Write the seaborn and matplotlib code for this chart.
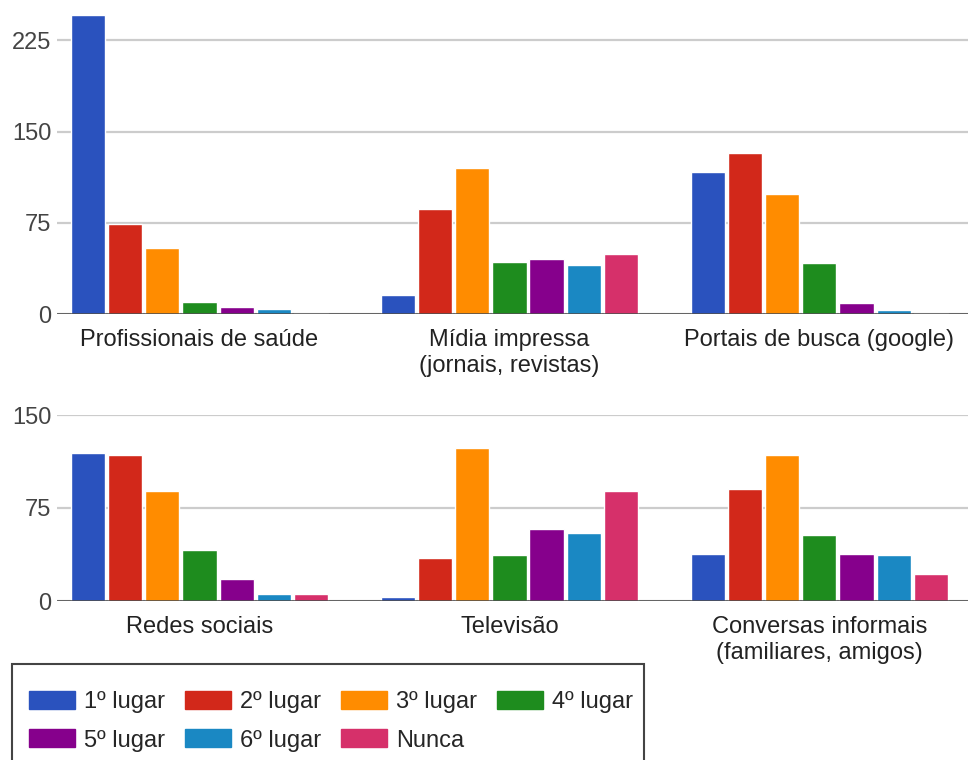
import matplotlib
matplotlib.use("Agg")
import matplotlib.pyplot as plt
from matplotlib.patches import Patch, Rectangle
import pandas as pd
import seaborn as sns

# Ranking levels and their colours
posicoes = ["1º lugar", "2º lugar", "3º lugar", "4º lugar", "5º lugar", "6º lugar", "Nunca"]
cores = ["#2a52be", "#d2281a", "#ff8c00", "#1e8c1e", "#86008c", "#1a88c3", "#d6306a"]

# Upper panel sources
fontes_sup = ["Profissionais de saúde", "Mídia impressa\n(jornais, revistas)", "Portais de busca (google)"]
profissionais = [246, 74, 54, 10, 6, 4, 1]
midia = [16, 86, 120, 43, 45, 40, 49]
portais = [117, 132, 99, 42, 9, 3, 1]

# Lower panel sources
fontes_inf = ["Redes sociais", "Televisão", "Conversas informais\n(familiares, amigos)"]
redes = [119, 118, 89, 41, 18, 6, 6]
televisao = [3, 35, 123, 37, 58, 55, 89]
conversas = [38, 90, 118, 53, 38, 37, 22]

ticks_sup = [0, 75, 150, 225]
ticks_inf = [0, 75, 150]


def tabela(fontes, series):
    linhas = []
    for fonte, valores in zip(fontes, series):
        for pos, v in zip(posicoes, valores):
            linhas.append({"fonte": fonte, "posicao": pos, "n": v})
    return pd.DataFrame(linhas)


sns.set_theme(style="white")
plt.rcParams["font.family"] = ["Liberation Sans", "DejaVu Sans"]

fig = plt.figure(figsize=(9.68, 7.6), dpi=100)
W, H = 968, 760
ax1 = fig.add_axes([57 / W, 1 - 314 / H, 1 - 57 / W, 304 / H])
ax2 = fig.add_axes([57 / W, 1 - 601 / H, 1 - 57 / W, 186 / H])


def painel(ax, df, fontes, ticks, ymax):
    sns.barplot(data=df, x="fonte", y="n", hue="posicao", order=fontes,
                hue_order=posicoes, palette=cores, saturation=1,
                width=0.84, gap=0.08, ax=ax, legend=False, errorbar=None)
    ax.set_xlim(-0.46, 2.48)
    ax.set_ylim(0, ymax)
    ax.set_yticks(ticks)
    ax.set_xlabel("")
    ax.set_ylabel("")
    ax.set_axisbelow(True)
    ax.yaxis.grid(True, color="#cccccc", linewidth=1.6)
    ax.xaxis.grid(False)
    for s in ax.spines.values():
        s.set_visible(False)
    ax.axhline(0, color="#444444", linewidth=1.8, zorder=5)
    ax.tick_params(axis="y", length=0, pad=4, labelsize=17, labelcolor="#444444")
    ax.tick_params(axis="x", length=0, pad=11, labelsize=17, labelcolor="#222222")
    for t in ax.get_xticklabels():
        t.set_linespacing(1.2)


painel(ax1, tabela(fontes_sup, [profissionais, midia, portais]), fontes_sup, ticks_sup, 250)
painel(ax2, tabela(fontes_inf, [redes, televisao, conversas]), fontes_inf, ticks_inf, 150)

# Legend box, open at the bottom edge of the figure
fig.patches.append(Rectangle((12 / W, -0.05), (644 - 12) / W, 0.05 + 1 - 664 / H,
                             transform=fig.transFigure, facecolor="white",
                             edgecolor="#444444", linewidth=1.5, zorder=0))

# Legend filled row by row: four entries on the first line, three on the second
ordem = [0, 4, 1, 5, 2, 6, 3]
handles = [Patch(facecolor=cores[i], edgecolor=cores[i]) for i in ordem]
rotulos = [posicoes[i] for i in ordem]
leg = fig.legend(handles, rotulos, ncol=4, loc="upper left",
                 bbox_to_anchor=(29 / W, 1 - 691 / H), frameon=False,
                 fontsize=17, handlelength=1.95, handleheight=0.8, handletextpad=0.38,
                 columnspacing=0.85, borderpad=0, labelspacing=0.68, borderaxespad=0)

fig.savefig("out.png", dpi=100)
